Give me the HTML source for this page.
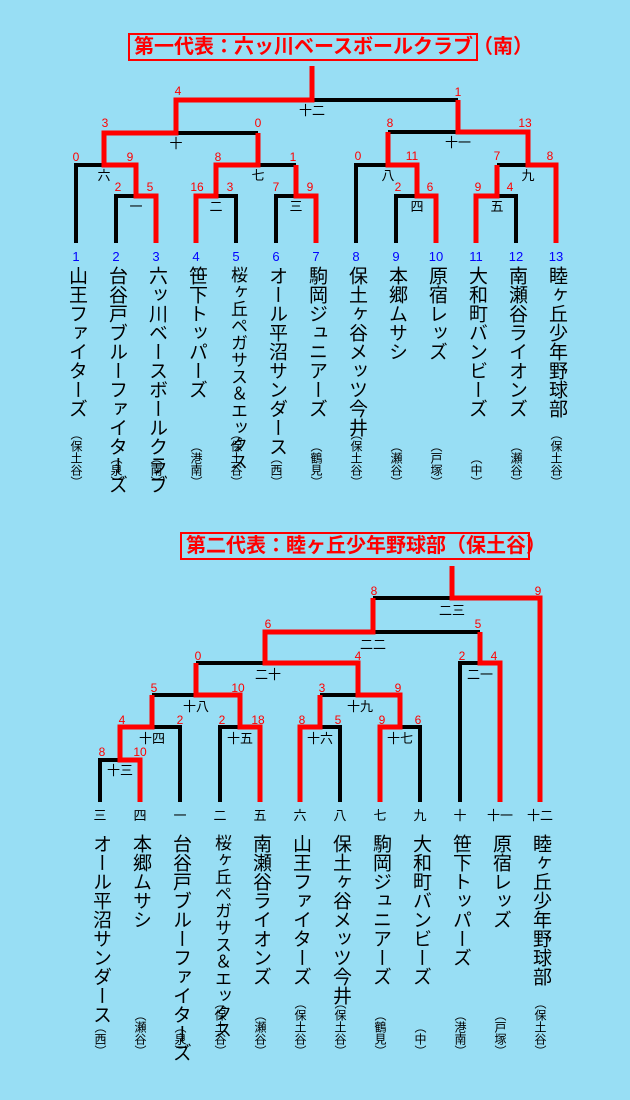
<!DOCTYPE html>
<html><head><meta charset="utf-8"><style>
body{margin:0;width:630px;height:1100px;background:#98def4;overflow:hidden;position:relative;font-family:"Liberation Sans","Noto Sans CJK JP",sans-serif}
.t{position:absolute;border:2px solid #f00;color:#f00;font-size:20px;line-height:24px;padding:0 4px;font-family:"Liberation Sans","Noto Sans CJK JP",sans-serif;font-weight:bold;white-space:nowrap}
.v{position:absolute;writing-mode:vertical-rl;font-size:19px;line-height:20px;width:20px;color:#000;font-family:"Liberation Sans","Noto Sans CJK JP",sans-serif;white-space:nowrap}
.r{position:absolute;writing-mode:vertical-rl;font-size:12px;line-height:14px;width:14px;color:#000;font-family:"Liberation Sans","Noto Sans CJK JP",sans-serif;white-space:nowrap}
svg{position:absolute;left:0;top:0}
svg text{font-family:"Liberation Sans","Noto Sans CJK JP",sans-serif}
</style></head><body>
<div class="t" style="left:128px;top:33px;width:338px">第一代表：六ッ川ベースボールクラブ（南）</div>
<div class="t" style="left:180px;top:532px;width:338px">第二代表：睦ヶ丘少年野球部（保土谷）</div>
<svg width="630" height="1100">
<g fill="none" stroke="#000" stroke-width="4" stroke-linejoin="miter">
<path d="M76 243V165H104M116 243V196H136M216 196H236V243M276 243V196H296M258 165H296M176 133H258M312 100H458"/>
<path d="M356 243V165H388M388 132H458M396 243V196H417M497 196H516V243M497 165H528"/>
<path d="M100 802V760H120M152 727H180V802M220 802V727H240M152 695H196M196 663H265M340 802V727H320M400 727H420V802M320 695H358M460 802V663H480M373 632H480M373 598H452"/>
</g>
<g fill="none" stroke="#f00" stroke-width="5" stroke-linejoin="miter">
<path d="M156 243V196H136V165H104V133H176V100H312V66"/>
<path d="M196 243V196H216V165H258V133"/>
<path d="M316 243V196H296V165"/>
<path d="M556 243V165H528V132H458V100"/>
<path d="M436 243V196H417V165H388V132"/>
<path d="M476 243V196H497V165"/>
<path d="M140 802V760H120V727H152V695"/>
<path d="M260 802V727H240V695H196V663"/>
<path d="M300 802V727H320V695"/>
<path d="M380 802V727H400V695H358V663H265V632H373V598"/>
<path d="M500 802V663H480V632"/>
<path d="M540 802V598H452V566"/>
</g>
<g fill="#f00" font-size="12" text-anchor="middle">
<text x="76" y="161">0</text><text x="130" y="161">9</text><text x="118" y="191">2</text><text x="150" y="191">5</text>
<text x="197" y="191">16</text><text x="230" y="191">3</text><text x="276" y="191">7</text><text x="310" y="191">9</text>
<text x="218" y="161">8</text><text x="293" y="161">1</text><text x="105" y="127">3</text><text x="258" y="127">0</text>
<text x="178" y="95">4</text><text x="458" y="96">1</text>
<text x="390" y="127">8</text><text x="525" y="127">13</text><text x="358" y="160">0</text><text x="412" y="160">11</text>
<text x="497" y="160">7</text><text x="550" y="160">8</text><text x="398" y="191">2</text><text x="430" y="191">6</text>
<text x="478" y="191">9</text><text x="510" y="191">4</text>
<text x="102" y="756">8</text><text x="140" y="756">10</text><text x="122" y="724">4</text><text x="180" y="724">2</text>
<text x="222" y="724">2</text><text x="258" y="724">18</text><text x="302" y="724">8</text><text x="338" y="724">5</text>
<text x="382" y="724">9</text><text x="418" y="724">6</text><text x="154" y="692">5</text><text x="238" y="692">10</text>
<text x="322" y="692">3</text><text x="398" y="692">9</text><text x="198" y="660">0</text><text x="358" y="660">4</text>
<text x="462" y="660">2</text><text x="494" y="660">4</text><text x="268" y="628">6</text><text x="478" y="628">5</text>
<text x="374" y="595">8</text><text x="538" y="595">9</text>
</g>
<g fill="#000" font-size="13" text-anchor="middle">
<text x="104" y="180">六</text><text x="136" y="211">一</text><text x="216" y="211">二</text><text x="296" y="211">三</text>
<text x="258" y="180">七</text><text x="176" y="148">十</text><text x="312" y="115">十二</text><text x="388" y="180">八</text>
<text x="417" y="211">四</text><text x="497" y="211">五</text><text x="528" y="180">九</text><text x="458" y="147">十一</text>
<text x="120" y="775">十三</text><text x="152" y="743">十四</text><text x="240" y="743">十五</text><text x="320" y="743">十六</text>
<text x="400" y="743">十七</text><text x="196" y="711">十八</text><text x="360" y="711">十九</text><text x="268" y="679">二十</text>
<text x="480" y="679">二一</text><text x="373" y="649">二二</text><text x="452" y="615">二三</text>
<text x="100" y="820">三</text><text x="140" y="820">四</text><text x="180" y="820">一</text><text x="220" y="820">二</text>
<text x="260" y="820">五</text><text x="300" y="820">六</text><text x="340" y="820">八</text><text x="380" y="820">七</text>
<text x="420" y="820">九</text><text x="460" y="820">十</text><text x="500" y="820">十一</text><text x="540" y="820">十二</text>
</g>
<g fill="#00f" font-size="13" text-anchor="middle">
<text x="76" y="261">1</text><text x="116" y="261">2</text><text x="156" y="261">3</text><text x="196" y="261">4</text>
<text x="236" y="261">5</text><text x="276" y="261">6</text><text x="316" y="261">7</text><text x="356" y="261">8</text>
<text x="396" y="261">9</text><text x="436" y="261">10</text><text x="476" y="261">11</text><text x="516" y="261">12</text>
<text x="556" y="261">13</text>
</g>
</svg>
<!-- top team names -->
<div class="v" style="left:66px;top:266px">山王ファイターズ</div>
<div class="v" style="left:106px;top:266px">台谷戸ブルーファイターズ</div>
<div class="v" style="left:146px;top:266px">六ッ川ベースボールクラブ</div>
<div class="v" style="left:186px;top:266px">笹下トッパーズ</div>
<div class="v" style="left:226px;top:266px;font-size:17px;line-height:18px">桜ヶ丘ペガサス＆エックス</div>
<div class="v" style="left:266px;top:266px">オール平沼サンダース</div>
<div class="v" style="left:306px;top:266px">駒岡ジュニアーズ</div>
<div class="v" style="left:346px;top:266px">保土ヶ谷メッツ今井</div>
<div class="v" style="left:386px;top:266px">本郷ムサシ</div>
<div class="v" style="left:426px;top:266px">原宿レッズ</div>
<div class="v" style="left:466px;top:266px">大和町バンビーズ</div>
<div class="v" style="left:506px;top:266px">南瀬谷ライオンズ</div>
<div class="v" style="left:546px;top:266px">睦ヶ丘少年野球部</div>
<div class="r" style="left:69px;bottom:612px">（保土谷）</div>
<div class="r" style="left:109px;bottom:612px">（泉）</div>
<div class="r" style="left:149px;bottom:612px">（南）</div>
<div class="r" style="left:189px;bottom:612px">（港南）</div>
<div class="r" style="left:229px;bottom:612px">（保土谷）</div>
<div class="r" style="left:269px;bottom:612px">（西）</div>
<div class="r" style="left:309px;bottom:612px">（鶴見）</div>
<div class="r" style="left:349px;bottom:612px">（保土谷）</div>
<div class="r" style="left:389px;bottom:612px">（瀬谷）</div>
<div class="r" style="left:429px;bottom:612px">（戸塚）</div>
<div class="r" style="left:469px;bottom:612px">（中）</div>
<div class="r" style="left:509px;bottom:612px">（瀬谷）</div>
<div class="r" style="left:549px;bottom:612px">（保土谷）</div>
<!-- bottom team names -->
<div class="v" style="left:90px;top:834px">オール平沼サンダース</div>
<div class="v" style="left:130px;top:834px">本郷ムサシ</div>
<div class="v" style="left:170px;top:834px">台谷戸ブルーファイターズ</div>
<div class="v" style="left:210px;top:834px;font-size:17px;line-height:18px">桜ヶ丘ペガサス＆エックス</div>
<div class="v" style="left:250px;top:834px">南瀬谷ライオンズ</div>
<div class="v" style="left:290px;top:834px">山王ファイターズ</div>
<div class="v" style="left:330px;top:834px">保土ヶ谷メッツ今井</div>
<div class="v" style="left:370px;top:834px">駒岡ジュニアーズ</div>
<div class="v" style="left:410px;top:834px">大和町バンビーズ</div>
<div class="v" style="left:450px;top:834px">笹下トッパーズ</div>
<div class="v" style="left:490px;top:834px">原宿レッズ</div>
<div class="v" style="left:530px;top:834px">睦ヶ丘少年野球部</div>
<div class="r" style="left:93px;bottom:43px">（西）</div>
<div class="r" style="left:133px;bottom:43px">（瀬谷）</div>
<div class="r" style="left:173px;bottom:43px">（泉）</div>
<div class="r" style="left:213px;bottom:43px">（保土谷）</div>
<div class="r" style="left:253px;bottom:43px">（瀬谷）</div>
<div class="r" style="left:293px;bottom:43px">（保土谷）</div>
<div class="r" style="left:333px;bottom:43px">（保土谷）</div>
<div class="r" style="left:373px;bottom:43px">（鶴見）</div>
<div class="r" style="left:413px;bottom:43px">（中）</div>
<div class="r" style="left:453px;bottom:43px">（港南）</div>
<div class="r" style="left:493px;bottom:43px">（戸塚）</div>
<div class="r" style="left:533px;bottom:43px">（保土谷）</div>
</body></html>
